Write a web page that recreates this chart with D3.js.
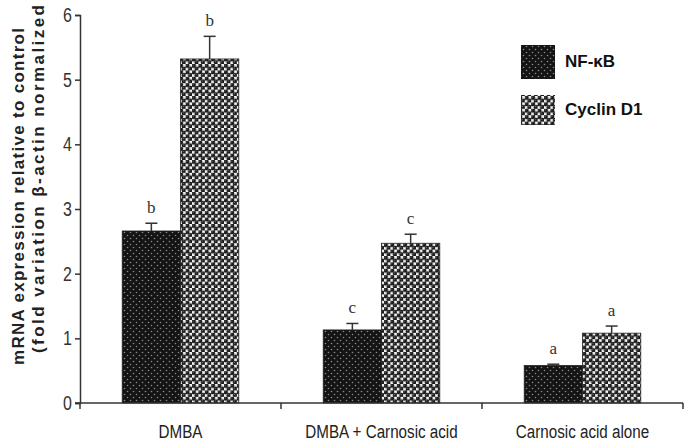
<!DOCTYPE html>
<html>
<head>
<meta charset="utf-8">
<script src="https://cdn.jsdelivr.net/npm/d3@7"></script>
<style>
  body { margin: 0; background: #fff; }
  svg { display: block; }
</style>
</head>
<body>
<div id="chart"></div>
<script>
// data
const groups = ["DMBA", "DMBA + Carnosic acid", "Carnosic acid alone"]
const series = ["NF-κB", "Cyclin D1"]
const nfkbValues = [2.66, 1.13, 0.58]
const nfkbErrors = [0.12, 0.10, 0.02]
const cyclinValues = [5.32, 2.47, 1.08]
const cyclinErrors = [0.35, 0.14, 0.11]
const nfkbLetters = ["b", "c", "a"]
const cyclinLetters = ["b", "c", "a"]
const yTicks = [0, 1, 2, 3, 4, 5, 6]

const W = 694, H = 443
const sans = "'Liberation Sans', Arial, sans-serif"

const svg = d3.select("#chart")
    .append("svg")
    .attr("width", W)
    .attr("height", H)

// fill patterns
const defs = svg.append("defs")
const p1 = defs.append("pattern")
    .attr("id", "pat-nfkb")
    .attr("patternUnits", "userSpaceOnUse")
    .attr("width", 6).attr("height", 6)
p1.append("rect").attr("width", 6).attr("height", 6).attr("fill", "#141414")
p1.append("circle").attr("cx", 1.5).attr("cy", 1.5).attr("r", 0.8).attr("fill", "#8a8a8a")
p1.append("circle").attr("cx", 4.5).attr("cy", 4.5).attr("r", 0.8).attr("fill", "#8a8a8a")

const p2 = defs.append("pattern")
    .attr("id", "pat-cyclin")
    .attr("patternUnits", "userSpaceOnUse")
    .attr("width", 6.4).attr("height", 6.4)
p2.append("rect").attr("width", 6.4).attr("height", 6.4).attr("fill", "#f4f4f4")
;[[1.6, 1.6], [4.8, 4.8]].forEach(c => {
    p2.append("circle").attr("cx", c[0]).attr("cy", c[1]).attr("r", 2.3).attr("fill", "#1c1c1c")
    p2.append("circle").attr("cx", c[0] - 0.6).attr("cy", c[1] - 0.6).attr("r", 0.6).attr("fill", "#888")
})
const fills = {"NF-κB": "url(#pat-nfkb)", "Cyclin D1": "url(#pat-cyclin)"}

// scales
const x = d3.scaleBand()
    .domain(groups)
    .range([80, 683])
    .padding(0)
const bw = x.bandwidth()
const x1 = d3.scaleBand()
    .domain(series)
    .range([bw * 0.21, bw * 0.79])
    .padding(0)
const y = d3.scaleLinear()
    .domain([0, 6])
    .range([403, 15])

// table for drawing
const rows = []
groups.forEach((g, i) => {
    rows.push({group: g, series: series[0], value: nfkbValues[i], err: nfkbErrors[i], letter: nfkbLetters[i]})
    rows.push({group: g, series: series[1], value: cyclinValues[i], err: cyclinErrors[i], letter: cyclinLetters[i]})
})

// bars
svg.append("g")
    .selectAll("rect")
    .data(rows)
    .join("rect")
    .attr("x", d => x(d.group) + x1(d.series))
    .attr("y", d => y(d.value))
    .attr("width", x1.bandwidth())
    .attr("height", d => y(0) - y(d.value))
    .attr("fill", d => fills[d.series])
    .attr("stroke", "#222")
    .attr("stroke-width", 0.8)

// error bars
const eb = svg.append("g")
    .attr("stroke", "#333")
    .attr("stroke-width", 1.5)
rows.forEach(d => {
    const cx = x(d.group) + x1(d.series) + x1.bandwidth() / 2
    eb.append("line")
        .attr("x1", cx).attr("x2", cx)
        .attr("y1", y(d.value)).attr("y2", y(d.value + d.err))
    eb.append("line")
        .attr("x1", cx - 6).attr("x2", cx + 6)
        .attr("y1", y(d.value + d.err)).attr("y2", y(d.value + d.err))
})

// significance letters
svg.append("g")
    .selectAll("text")
    .data(rows)
    .join("text")
    .attr("x", d => x(d.group) + x1(d.series) + x1.bandwidth() / 2)
    .attr("y", d => y(d.value + d.err) - 10)
    .attr("text-anchor", "middle")
    .style("font-family", "'Liberation Serif', serif")
    .style("font-size", "17px")
    .style("fill", "#333")
    .text(d => d.letter)

// y axis
const yAxis = svg.append("g")
    .attr("transform", "translate(80,0)")
    .call(d3.axisLeft(y).tickValues(yTicks).tickSize(5).tickFormat(""))
yAxis.select(".domain").attr("stroke", "#333").attr("stroke-width", 1.5)
yAxis.selectAll(".tick line").attr("stroke", "#333").attr("stroke-width", 1.5)
// condensed tick labels
svg.append("g")
    .selectAll("text")
    .data(yTicks)
    .join("text")
    .attr("transform", d => `translate(72,${y(d) + 7}) scale(0.8,1)`)
    .attr("text-anchor", "end")
    .style("font-family", sans)
    .style("font-size", "20px")
    .style("fill", "#333")
    .text(d => d)

// x axis line with boundary ticks
const xa = svg.append("g")
    .attr("stroke", "#333")
    .attr("stroke-width", 1.5)
xa.append("line")
    .attr("x1", 75).attr("x2", x.range()[1])
    .attr("y1", y(0)).attr("y2", y(0))
groups.forEach(g => {
    xa.append("line")
        .attr("x1", x(g) + bw).attr("x2", x(g) + bw)
        .attr("y1", y(0)).attr("y2", y(0) + 6)
})
xa.append("line")
    .attr("x1", 80).attr("x2", 80)
    .attr("y1", y(0)).attr("y2", y(0) + 6)

// category labels, condensed
svg.append("g")
    .selectAll("text")
    .data(groups)
    .join("text")
    .attr("transform", d => `translate(${x(d) + bw / 2},438) scale(0.8,1)`)
    .attr("text-anchor", "middle")
    .style("font-family", sans)
    .style("font-size", "19px")
    .style("fill", "#222")
    .text(d => d)

// y axis title, two lines
const yTitle = [
    {text: "mRNA expression relative to control", x: 24, y: 365, len: 337},
    {text: "(fold variation β-actin normalized", x: 44, y: 353, len: 348}
]
svg.append("g")
    .selectAll("text")
    .data(yTitle)
    .join("text")
    .attr("transform", d => `translate(${d.x},${d.y}) rotate(-90)`)
    .attr("text-anchor", "start")
    .attr("textLength", d => d.len)
    .attr("lengthAdjust", "spacing")
    .style("font-family", sans)
    .style("font-weight", "bold")
    .style("font-size", "17px")
    .style("fill", "#222")
    .text(d => d.text)

// legend
const legend = svg.append("g")
const legendY = [45, 95]
series.forEach((s, i) => {
    legend.append("rect")
        .attr("x", 521).attr("y", legendY[i])
        .attr("width", 34).attr("height", i == 0 ? 34 : 30)
        .attr("fill", fills[s])
    legend.append("text")
        .attr("x", 565).attr("y", legendY[i] + (i == 0 ? 22 : 20))
        .style("font-family", sans)
        .style("font-weight", "bold")
        .style("font-size", "17px")
        .style("fill", "#111")
        .text(s)
})
</script>
</body>
</html>
